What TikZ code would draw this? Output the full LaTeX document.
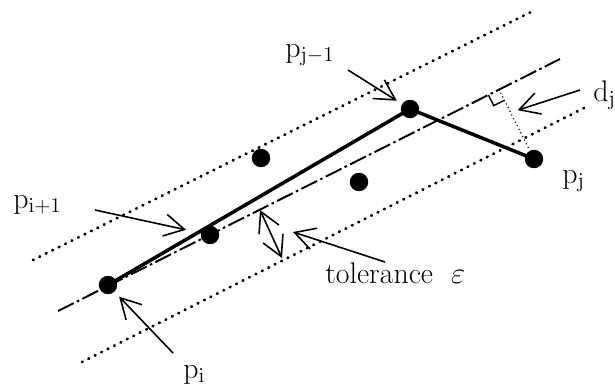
\documentclass[tikz,border=0pt]{standalone}
\usetikzlibrary{positioning,arrows.meta,calc}

\begin{document}
\begin{tikzpicture}[x=0.02cm, y=-0.02cm,
        dot/.style={circle, fill, inner sep=0pt, minimum size=10.5pt},
        lbl/.style={inner sep=0pt, anchor=base west, font=\fontsize{17}{20}\selectfont},
        dotline/.style={line width=1.6pt, line cap=round, dash pattern=on 0.4pt off 3.7pt},
        fineline/.style={line width=0.9pt, line cap=round, dash pattern=on 0pt off 2.3pt},
        axisline/.style={line width=1.1pt, dash pattern=on 10pt off 2pt on 1.5pt off 2pt},
        poly/.style={line width=2pt, line join=round},
        barb/.tip={Straight Barb[length=4mm,width=4.4mm]},
        pointer/.style={line width=0.9pt, -barb}]
        \useasboundingbox (0,0) rectangle (615,387);

        % tolerance band
        \coordinate (ua) at (33,260);  \coordinate (ub) at (533,11);
        \coordinate (ca) at (58,311);  \coordinate (cb) at (560,59);
        \coordinate (la) at (82,362);  \coordinate (lb) at (584,108);
        \draw[dotline] (ua) -- (ub);
        \draw[axisline] (ca) -- (cb);
        \draw[dotline] (la) -- (lb);

        % points
        \node[dot] (pi) at (108,285) {};
        \node[dot] (pii) at (210,235) {};
        \node[dot] (qa) at (261,158) {};
        \node[dot] (qb) at (359,182) {};
        \node[dot] (pjm) at (410,109) {};
        \node[dot] (pj) at (534,159) {};

        \draw[poly] (pi.center) -- (pjm.center) -- (pj.center);

        % distance d_j
        \coordinate (foot) at ($(ca)!(pj)!(cb)$);
        \coordinate (ra) at ($(foot)!6.8pt!(ca)$);
        \coordinate (rb) at ($(foot)!6.8pt!(pj)$);
        \draw[line width=0.8pt] (ra) -- ($(ra)+(rb)-(foot)$) -- (rb);
        \draw[fineline] (foot) -- (pj);

        % labels
        \node[lbl] (lpjm) at (285,57) {p$_{\mathrm{j-1}}$};
        \node[lbl] (lpii) at (13,208) {p$_{\mathrm{i+1}}$};
        \node[lbl] (lpi) at (183,378) {p$_{\mathrm{i}}$};
        \node[lbl] (lpj) at (562,183) {p$_{\mathrm{j}}$};
        \node[lbl] (ldj) at (593,101) {d$_{\mathrm{j}}$};
        \node[lbl] (ltol) at (325,283) {tolerance\ \ $\varepsilon$};

        % pointers
        \coordinate (tpjm) at (348,70);
        \coordinate (tpii) at (95,210);
        \coordinate (tpi) at (173,353);
        \coordinate (tdj) at (580,90);
        \coordinate (dmid) at ($(foot)!0.33!(pj)$);
        \coordinate (ttol) at (385,262);
        \coordinate (htol) at (293,232);
        \coordinate (ta) at (260,210);
        \coordinate (tb) at (282,258);

        \draw[pointer, shorten >=3.4pt] (tpjm) -- (pjm);
        \draw[pointer, shorten >=8.5pt] (tpii) -- (pii);
        \draw[pointer, shorten >=3.7pt] (tpi) -- (pi);
        \draw[pointer, shorten >=4.2pt] (tdj) -- (dmid);
        \draw[pointer] (ttol) -- (htol);
        \draw[pointer, barb-barb] (ta) -- (tb);
    \end{tikzpicture}
\end{document}
